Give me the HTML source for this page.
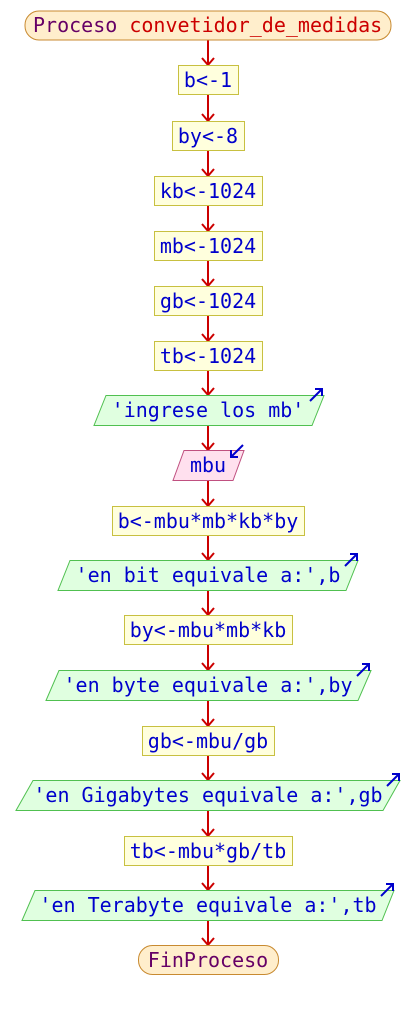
<!DOCTYPE html>
<html><head><meta charset="utf-8"><style>
html,body{margin:0;padding:0;background:#fff;width:416px;height:1010px;overflow:hidden}
text{font-family:"DejaVu Sans Mono","Liberation Mono",monospace;font-size:20px}
</style></head><body>
<svg width="416" height="1010" xmlns="http://www.w3.org/2000/svg">
<defs>
<g id="ah"><path d="M-6,-7 L0,0 L6,-7" fill="none" stroke="#cc0000" stroke-width="2"/></g>
<g id="out"><path d="M0,13 L12,1 M5,1 L12,1 L12,8" fill="none" stroke="#0000cc" stroke-width="2"/></g>
</defs>
<g stroke="#cc0000" stroke-width="2">
<line x1="208" y1="40" x2="208" y2="65"/><line x1="208" y1="95" x2="208" y2="121"/>
<line x1="208" y1="150" x2="208" y2="176"/><line x1="208" y1="205" x2="208" y2="231"/>
<line x1="208" y1="260" x2="208" y2="286"/><line x1="208" y1="315" x2="208" y2="341"/>
<line x1="208" y1="370" x2="208" y2="395"/><line x1="208" y1="425" x2="208" y2="450"/>
<line x1="208" y1="480" x2="208" y2="506"/><line x1="208" y1="535" x2="208" y2="560"/>
<line x1="208" y1="590" x2="208" y2="615"/><line x1="208" y1="645" x2="208" y2="670"/>
<line x1="208" y1="700" x2="208" y2="726"/><line x1="208" y1="755" x2="208" y2="780"/>
<line x1="208" y1="810" x2="208" y2="836"/><line x1="208" y1="865" x2="208" y2="890"/>
<line x1="208" y1="920" x2="208" y2="945"/>
</g>
<use href="#ah" x="208" y="65"/><use href="#ah" x="208" y="121"/><use href="#ah" x="208" y="176"/>
<use href="#ah" x="208" y="231"/><use href="#ah" x="208" y="286"/><use href="#ah" x="208" y="341"/>
<use href="#ah" x="208" y="395"/><use href="#ah" x="208" y="450"/><use href="#ah" x="208" y="506"/>
<use href="#ah" x="208" y="560"/><use href="#ah" x="208" y="615"/><use href="#ah" x="208" y="670"/>
<use href="#ah" x="208" y="726"/><use href="#ah" x="208" y="780"/><use href="#ah" x="208" y="836"/>
<use href="#ah" x="208" y="890"/><use href="#ah" x="208" y="945"/>

<rect x="25" y="11" width="366" height="29" rx="14" fill="#ffeecc" stroke="#c88a30"/>
<text x="33" y="32" fill="#660066">Proceso <tspan fill="#cc0000">convetidor_de_medidas</tspan></text>

<g fill="#ffffdd" stroke="#c8c040">
<rect x="178.5" y="65.5" width="60" height="29"/>
<rect x="172.5" y="121.5" width="72" height="29"/>
<rect x="154.5" y="176.5" width="108" height="29"/>
<rect x="154.5" y="231.5" width="108" height="29"/>
<rect x="154.5" y="286.5" width="108" height="29"/>
<rect x="154.5" y="341.5" width="108" height="29"/>
<rect x="112.5" y="506.5" width="192" height="29"/>
<rect x="124.5" y="615.5" width="168" height="29"/>
<rect x="142.5" y="726.5" width="132" height="29"/>
<rect x="124.5" y="836.5" width="168" height="29"/>
</g>
<g fill="#0000cc">
<text x="208" y="87" text-anchor="middle">b&lt;-1</text>
<text x="208" y="143" text-anchor="middle">by&lt;-8</text>
<text x="208" y="198" text-anchor="middle">kb&lt;-1024</text>
<text x="208" y="253" text-anchor="middle">mb&lt;-1024</text>
<text x="208" y="308" text-anchor="middle">gb&lt;-1024</text>
<text x="208" y="363" text-anchor="middle">tb&lt;-1024</text>
<text x="208" y="528" text-anchor="middle">b&lt;-mbu*mb*kb*by</text>
<text x="208" y="637" text-anchor="middle">by&lt;-mbu*mb*kb</text>
<text x="208" y="748" text-anchor="middle">gb&lt;-mbu/gb</text>
<text x="208" y="858" text-anchor="middle">tb&lt;-mbu*gb/tb</text>
</g>

<g fill="#e0ffe0" stroke="#50c050">
<polygon points="106,395.5 324,395.5 312,425.5 94,425.5"/>
<polygon points="70,560.5 358,560.5 346,590.5 58,590.5"/>
<polygon points="59,670.5 371,670.5 358,700.5 46,700.5"/>
<polygon points="33,780.5 400,780.5 383,810.5 16,810.5"/>
<polygon points="35,890.5 394,890.5 382,920.5 22,920.5"/>
</g>
<polygon points="184,450.5 244,450.5 233,480.5 173,480.5" fill="#ffe0ee" stroke="#c05080"/>
<g fill="#0000cc">
<text x="208" y="417" text-anchor="middle">'ingrese los mb'</text>
<text x="208" y="472" text-anchor="middle">mbu</text>
<text x="208" y="582" text-anchor="middle">'en bit equivale a:',b</text>
<text x="208" y="692" text-anchor="middle">'en byte equivale a:',by</text>
<text x="208" y="802" text-anchor="middle">'en Gigabytes equivale a:',gb</text>
<text x="208" y="912" text-anchor="middle">'en Terabyte equivale a:',tb</text>
</g>
<use href="#out" x="310" y="388"/>
<use href="#out" x="345" y="553"/>
<use href="#out" x="357" y="663"/>
<use href="#out" x="387" y="773"/>
<use href="#out" x="381" y="883"/>
<path d="M243,445 L231,457 M231,450 L231,457 L238,457" fill="none" stroke="#0000cc" stroke-width="2"/>

<rect x="138.5" y="945.5" width="140" height="29" rx="14" fill="#ffeecc" stroke="#c88a30"/>
<text x="208" y="967" text-anchor="middle" fill="#660066">FinProceso</text>
</svg>
</body></html>
